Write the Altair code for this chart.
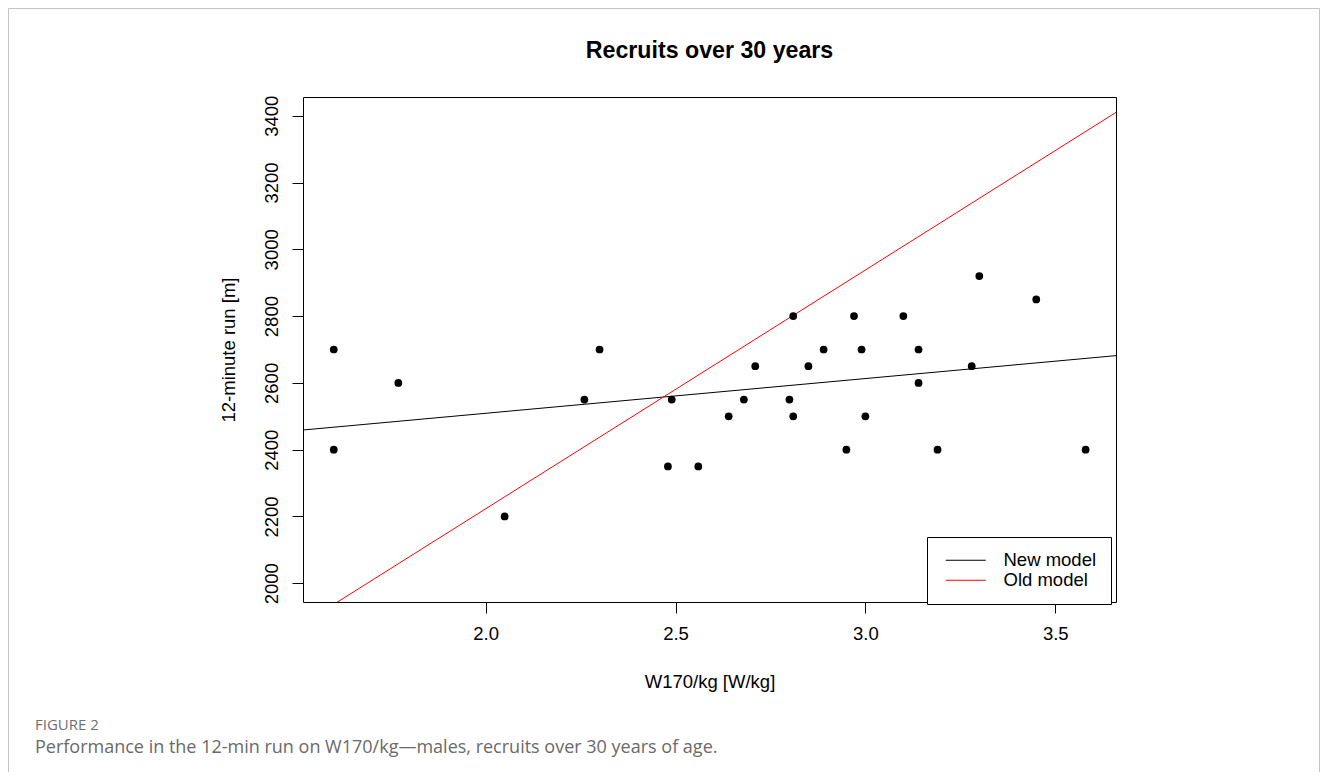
import altair as alt
import pandas as pd

# ---- data ----
w170 = [1.60, 1.60, 1.77, 2.05, 2.26, 2.30, 2.48, 2.49, 2.56, 2.64,
        2.68, 2.71, 2.80, 2.81, 2.81, 2.85, 2.89, 2.95, 2.97, 2.99,
        3.00, 3.10, 3.14, 3.14, 3.19, 3.28, 3.30, 3.45, 3.58]
run12 = [2700, 2400, 2600, 2200, 2550, 2700, 2350, 2550, 2350, 2500,
         2550, 2650, 2550, 2800, 2500, 2650, 2700, 2400, 2800, 2700,
         2500, 2800, 2700, 2600, 2400, 2650, 2920, 2850, 2400]

model_names = ["New model", "Old model"]
model_colors = ["#000000", "#ff0000"]
intercepts = [2301, 793]
slopes = [104, 715]

x_domain = [1.519, 3.660]
y_domain = [1944, 3456]
x_ticks = [2.0, 2.5, 3.0, 3.5]
y_ticks = [2000, 2200, 2400, 2600, 2800, 3000, 3200, 3400]

title_text = "Recruits over 30 years"
x_title = "W170/kg [W/kg]"
y_title = "12-minute run [m]"
fig_label = "FIGURE 2"
fig_caption = "Performance in the 12-min run on W170/kg\u2014males, recruits over 30 years of age."

# ---- tables ----
pts = pd.DataFrame({"x": w170, "y": run12})
line_rows = []
for name, a, b in zip(model_names, intercepts, slopes):
    for xv in x_domain:
        line_rows.append({"model": name, "x": xv, "y": a + b * xv})
lines = pd.DataFrame(line_rows)

FONT = "Liberation Sans"

xscale = alt.Scale(domain=x_domain, nice=False, zero=False)
yscale = alt.Scale(domain=y_domain, nice=False, zero=False)

xaxis = alt.Axis(values=x_ticks, format=".1f", title=x_title, labelPadding=11,
                 titlePadding=30)
yaxis = alt.Axis(values=y_ticks, format="d", title=y_title, labelAngle=270,
                 labelAlign="center", labelBaseline="bottom", labelPadding=11,
                 titlePadding=24)

points = alt.Chart(pts).mark_point(filled=True, size=60, color="black", opacity=1).encode(
    x=alt.X("x:Q", scale=xscale, axis=xaxis),
    y=alt.Y("y:Q", scale=yscale, axis=yaxis),
)

model_lines = alt.Chart(lines).mark_line(strokeWidth=1, clip=True).encode(
    x=alt.X("x:Q", scale=xscale),
    y=alt.Y("y:Q", scale=yscale),
    color=alt.Color("model:N",
                    scale=alt.Scale(domain=model_names, range=model_colors),
                    legend=alt.Legend(
                        title=None, orient="none", legendX=624, legendY=440,
                        symbolType="M-1.8,0H14.2", symbolSize=25, symbolStrokeWidth=1,
                        labelFontSize=18.5, labelFont=FONT, labelColor="black",
                        labelOffset=44, padding=14, rowPadding=1,
                        strokeColor="black", fillColor="white",
                    )),
    detail="model:N",
)

one = pd.DataFrame({"k": [0]})

border = alt.Chart(one).mark_rect(
    fill="transparent", stroke="#c4c4c4", strokeWidth=1
).encode(
    x=alt.value(-294.5), x2=alt.value(1016.5),
    y=alt.value(-88.5), y2=alt.value(800),
)

title_df = pd.DataFrame({"t": [title_text]})
label_df = pd.DataFrame({"t": [fig_label]})
caption_df = pd.DataFrame({"t": [fig_caption]})

title_mark = alt.Chart(title_df).mark_text(
    align="center", baseline="alphabetic", font=FONT, fontSize=23.2,
    fontWeight="bold", color="black"
).encode(text="t:N", x=alt.value(406.5), y=alt.value(-39))

fig_text = alt.Chart(label_df).mark_text(
    align="left", baseline="middle", font="Open Sans", fontSize=15,
    color="#707070"
).encode(text="t:N", x=alt.value(-268), y=alt.value(628))

cap_text = alt.Chart(caption_df).mark_text(
    align="left", baseline="middle", font="Open Sans", fontSize=18,
    color="#6a6a6a"
).encode(text="t:N", x=alt.value(-268), y=alt.value(651))

chart = alt.layer(border, model_lines, points, title_mark, fig_text, cap_text).properties(
    width=813, height=505,
    autosize=alt.AutoSizeParams(type="none"),
    padding={"left": 295, "top": 89, "right": 204, "bottom": 170},
).configure(
    background="white", font=FONT
).configure_view(
    stroke="black", strokeWidth=1
).configure_axis(
    domain=False, grid=False, ticks=True, tickSize=11, tickColor="black",
    tickWidth=1, labelFont=FONT, labelFontSize=18.5, labelColor="black",
    titleFont=FONT, titleFontSize=18.5, titleFontWeight="normal",
    titleColor="black"
)

chart.save("out.html", embed_options={"renderer": "svg", "actions": False})
